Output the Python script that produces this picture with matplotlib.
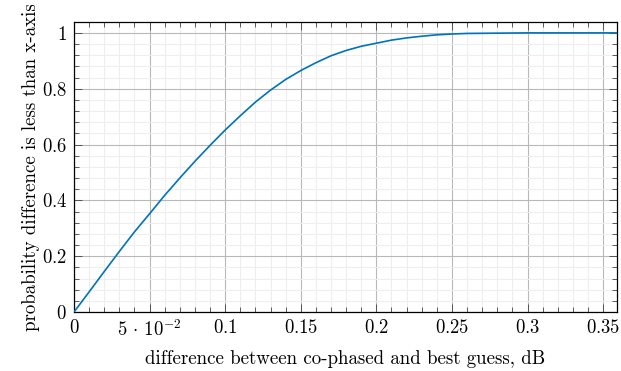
import matplotlib
matplotlib.use("Agg")
import matplotlib.pyplot as plt
from matplotlib.ticker import MultipleLocator, FixedLocator, FixedFormatter

diff_db = [0, 0.01, 0.02, 0.03, 0.04, 0.05, 0.06, 0.07, 0.08, 0.09, 0.10,
           0.11, 0.12, 0.13, 0.14, 0.15, 0.16, 0.17, 0.18, 0.19, 0.20, 0.21,
           0.22, 0.23, 0.24, 0.25, 0.26, 0.28, 0.30, 0.36]
prob = [0, 0.072, 0.145, 0.217, 0.287, 0.352, 0.418, 0.48, 0.54, 0.597, 0.652,
        0.703, 0.752, 0.795, 0.833, 0.865, 0.893, 0.918, 0.937, 0.952, 0.963,
        0.974, 0.982, 0.988, 0.993, 0.996, 0.998, 0.999, 1.0, 1.0]

x_ticks = [0, 0.05, 0.1, 0.15, 0.2, 0.25, 0.3, 0.35]
x_tick_labels = ["$0$", r"$5\,\cdot\,10^{-2}$", "$0.1$", "$0.15$", "$0.2$",
                 "$0.25$", "$0.3$", "$0.35$"]
y_ticks = [0, 0.2, 0.4, 0.6, 0.8, 1.0]
y_tick_labels = ["$0$", "$0.2$", "$0.4$", "$0.6$", "$0.8$", "$1$"]

plt.rcParams["font.family"] = "serif"
plt.rcParams["font.serif"] = ["cmr10", "DejaVu Serif"]
plt.rcParams["mathtext.fontset"] = "cm"
plt.rcParams["axes.unicode_minus"] = False

fig = plt.figure(figsize=(6.21, 3.71), dpi=100)
ax = fig.add_axes([74/621, 1-312/371, (617-74)/621, (312-22)/371])

ax.plot(diff_db, prob, color="#0072BD", lw=1.2, zorder=3)

ax.set_xlim(0, 0.3592)
ax.set_ylim(0, 1.039)

ax.xaxis.set_major_locator(FixedLocator(x_ticks))
ax.xaxis.set_major_formatter(FixedFormatter(x_tick_labels))
ax.yaxis.set_major_locator(FixedLocator(y_ticks))
ax.yaxis.set_major_formatter(FixedFormatter(y_tick_labels))
ax.xaxis.set_minor_locator(MultipleLocator(0.01))
ax.yaxis.set_minor_locator(MultipleLocator(0.04))

ax.grid(which="minor", color="#eeeeee", lw=0.8, zorder=0)
ax.grid(which="major", color="#b8b8b8", lw=0.8, zorder=1)
ax.set_axisbelow(True)

ax.tick_params(which="both", direction="in", top=True, right=True,
               labelsize=13.5, width=0.6, color="#444444")
ax.tick_params(which="major", length=5.5, pad=5)
ax.tick_params(which="minor", length=3.5)
for s in ax.spines.values():
    s.set_linewidth(0.9)

ax.set_xlabel("difference between co-phased and best guess, dB", fontsize=13.6, labelpad=7)
ax.set_ylabel("probability difference is less than x-axis", fontsize=13.6, labelpad=1)

fig.savefig("out.png", dpi=100)
